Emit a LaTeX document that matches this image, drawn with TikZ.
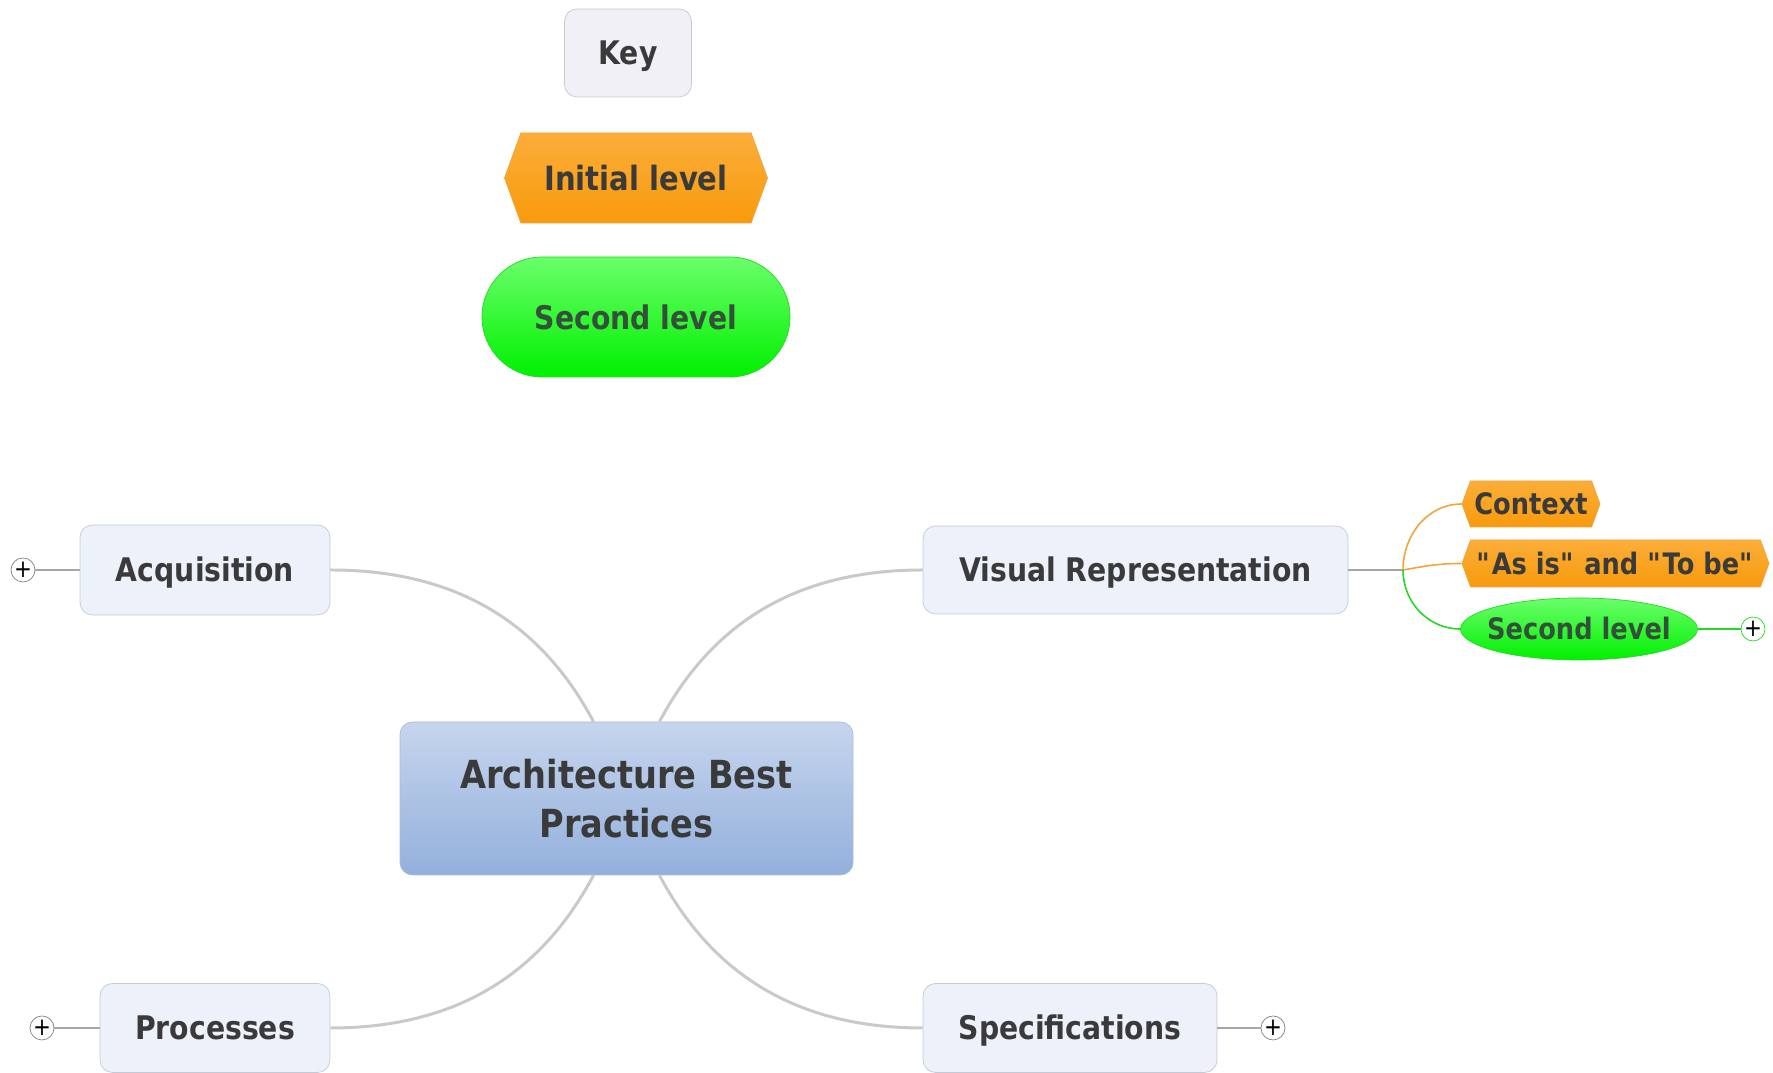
\documentclass[tikz,border=0pt]{standalone}
\usepackage{fontspec}
\setmainfont{DejaVu Sans}[FakeStretch=0.87]
\usetikzlibrary{shapes.symbols, shapes.geometric, shapes.misc}

\definecolor{txtgrey}{HTML}{3A3A3A}
\definecolor{txtgreen}{HTML}{34503A}
\definecolor{boxfill}{HTML}{ECF1FA}
\definecolor{boxline}{HTML}{C3CAD6}
\definecolor{keyfill}{HTML}{F0F0F6}
\definecolor{centtop}{HTML}{C6D5EE}
\definecolor{centbot}{HTML}{93B0DC}
\definecolor{centline}{HTML}{A8BCDA}
\definecolor{orangetop}{HTML}{FBAE3A}
\definecolor{orangebot}{HTML}{F89A0C}
\definecolor{orangeline}{HTML}{F2A33A}
\definecolor{greentop}{HTML}{6BFF6B}
\definecolor{greenbot}{HTML}{00F000}
\definecolor{greenline}{HTML}{22D822}
\definecolor{branchgrey}{HTML}{C9C9C9}

\begin{document}
\begin{tikzpicture}[
	topic/.style={draw=boxline, fill=boxfill, rounded corners=0.25cm, minimum height=1.78cm, text height=17pt, text depth=3.5pt, text=txtgrey, font=\bfseries\fontsize{18.5}{22}\selectfont},
	hexa/.style={signal, signal to=west and east, signal pointer angle=140, draw=orangeline, top color=orangetop, bottom color=orangebot, text=txtgrey, inner sep=0pt},
	blob/.style={draw=greenline, top color=greentop, bottom color=greenbot, text=txtgreen, inner sep=0pt},
	plus/.style={circle, draw=gray, fill=white, minimum size=0.48cm, inner sep=0pt, font=\fontsize{14}{14}\selectfont},
	branch/.style={draw=branchgrey, line width=1.7pt},
	twig/.style={draw=gray!70, line width=0.6pt}
]
	\useasboundingbox (0,0) rectangle (35.46,21.46);

	% key
	\node[topic, draw=boxline, fill=keyfill, minimum width=2.54cm, minimum height=1.76cm] (key) at (12.56, 20.4) {Key};
	\node[hexa, minimum width=5.26cm, minimum height=1.8cm, font=\bfseries\fontsize{19}{22}\selectfont] (initial) at (12.72, 17.9) {Initial level};
	\node[blob, rounded rectangle, minimum width=6.16cm, minimum height=2.4cm, font=\bfseries\fontsize{18.5}{22}\selectfont] (second) at (12.72, 15.12) {Second level};

	% central topic
	\node[draw=centline, top color=centtop, bottom color=centbot, rounded corners=0.25cm, text=txtgrey, minimum width=9.06cm, minimum height=3.06cm, align=center, font=\bfseries\fontsize{22}{28}\selectfont] (central) at (12.53, 5.49) {Architecture Best\\Practices};

	% main topics
	\node[topic, minimum width=5cm, minimum height=1.8cm] (acq) at (4.1, 10.06) {Acquisition};
	\node[topic, minimum width=4.6cm] (proc) at (4.3, 0.9) {Processes};
	\node[topic, minimum width=5.88cm] (spec) at (21.4, 0.9) {Specifications};
	\node[topic, minimum width=8.5cm, minimum height=1.76cm] (vis) at (22.71, 10.06) {Visual Representation};

	% subtopics
	\node[hexa, minimum width=2.76cm, minimum height=0.92cm, font=\bfseries\fontsize{16.8}{20}\selectfont] (context) at (30.62, 11.38) {Context};
	\node[hexa, minimum width=6.14cm, minimum height=0.94cm, font=\bfseries\fontsize{16.8}{20}\selectfont] (asis) at (32.31, 10.19) {\textquotedbl As is\textquotedbl{} and \textquotedbl To be\textquotedbl};
	\node[blob, ellipse, inner xsep=-0.16cm, minimum width=4.68cm, minimum height=1.24cm, font=\bfseries\fontsize{16.8}{20}\selectfont] (small) at (31.58, 8.88) {Second level};

	% collapse markers
	\node[plus] (pacq) at (0.46, 10.06) {+};
	\node[plus] (pproc) at (0.84, 0.9) {+};
	\node[plus] (pspec) at (25.46, 0.9) {+};
	\node[plus, draw=greenline] (psmall) at (35.06, 8.88) {+};

	\coordinate (cnw) at ([xshift=-0.66cm]central.north);
	\coordinate (cne) at ([xshift=0.66cm]central.north);
	\coordinate (csw) at ([xshift=-0.66cm]central.south);
	\coordinate (cse) at ([xshift=0.66cm]central.south);
	\coordinate (fork) at (28.06, 10.06);

	% branches
	\draw[branch] (acq.east) to[out=0, in=118] (cnw);
	\draw[branch] (cne) to[out=62, in=180] (vis.west);
	\draw[branch] (csw) to[out=-118, in=0] (proc.east);
	\draw[branch] (cse) to[out=-62, in=180] (spec.west);

	\draw[twig] (pacq) -- (acq);
	\draw[twig] (pproc) -- (proc);
	\draw[twig] (spec) -- (pspec);
	\draw[twig] (vis.east) -- (fork);

	\draw[orangeline, line width=0.9pt] (fork) to[out=90, in=180] (context.west);
	\draw[orangeline, line width=0.9pt] (fork) to[out=10, in=180] (asis.west);
	\draw[greenline, line width=0.9pt] (fork) to[out=-90, in=180] (small.west);
	\draw[greenline, line width=0.9pt] (small.east) -- (psmall);
\end{tikzpicture}
\end{document}
